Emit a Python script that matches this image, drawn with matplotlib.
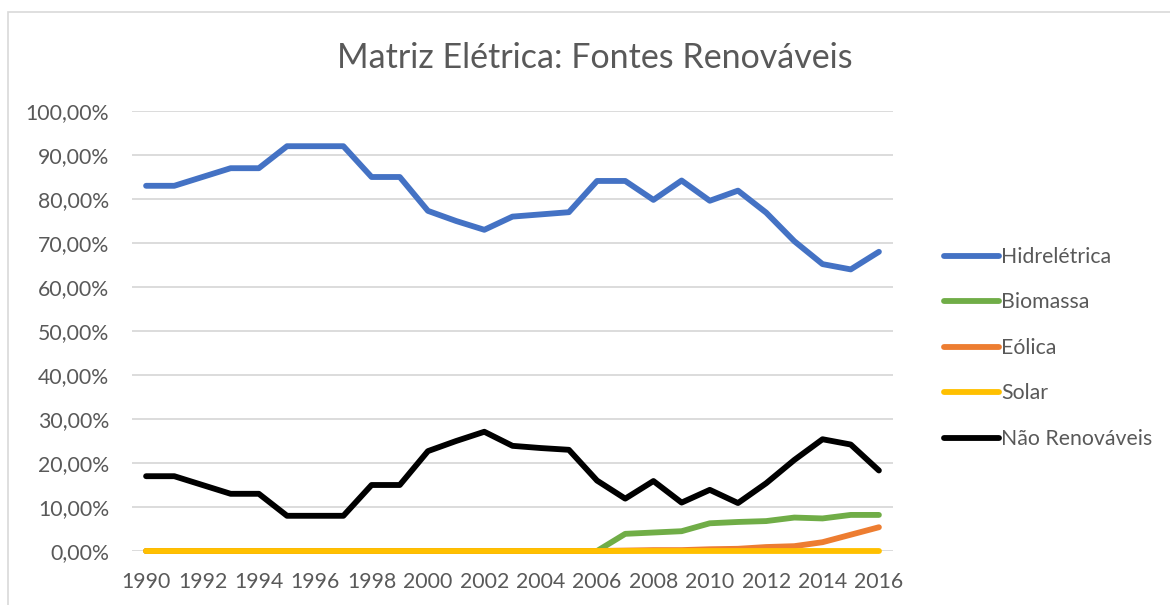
import matplotlib
matplotlib.use("Agg")
import matplotlib.pyplot as plt
from matplotlib.patches import Rectangle
from matplotlib.ticker import FuncFormatter

years = list(range(1990, 2017))
hidreletrica = [83.0, 83.0, 85.0, 87.0, 87.0, 92.0, 92.0, 92.0, 85.0, 85.0, 77.3, 75.0, 73.0,
                76.0, 76.5, 77.0, 84.1, 84.1, 79.8, 84.2, 79.6, 81.9, 76.9, 70.4, 65.2, 64.0, 68.0]
biomassa = [0, 0, 0, 0, 0, 0, 0, 0, 0, 0, 0, 0, 0, 0, 0, 0, 0,
            3.9, 4.2, 4.5, 6.3, 6.6, 6.8, 7.6, 7.4, 8.2, 8.2]
eolica = [0, 0, 0, 0, 0, 0, 0, 0, 0, 0, 0, 0, 0, 0, 0, 0, 0,
          0.1, 0.2, 0.2, 0.4, 0.5, 0.9, 1.1, 2.0, 3.7, 5.4]
solar = [0.0] * 27
nao_renovaveis = [17.0, 17.0, 15.0, 13.0, 13.0, 8.0, 8.0, 8.0, 15.0, 15.0, 22.7, 25.0, 27.1,
                  23.9, 23.4, 23.0, 16.0, 11.9, 15.9, 11.0, 13.9, 10.9, 15.4, 20.7, 25.4, 24.2, 18.3]

series = [
    ("Hidrelétrica", hidreletrica, "#4472C4"),
    ("Biomassa", biomassa, "#70AD47"),
    ("Eólica", eolica, "#ED7D31"),
    ("Solar", solar, "#FFC000"),
    ("Não Renováveis", nao_renovaveis, "#000000"),
]
title = "Matriz Elétrica: Fontes Renováveis"
yticks = list(range(0, 101, 10))
xticks = list(range(1990, 2017, 2))

plt.rcParams['font.family'] = ['Lato', 'DejaVu Sans']
W, H = 1170, 605
fig = plt.figure(figsize=(W / 100, H / 100), dpi=100)
fig.patch.set_facecolor("white")

# chart border
fig.add_artist(Rectangle((8 / W, -0.1), 1.2, (H - 12) / H + 0.1, transform=fig.transFigure,
                         fill=False, edgecolor="#D9D9D9", linewidth=1.2))

ax = fig.add_axes([132 / W, (H - 551) / H, 761 / W, 440 / H])
ax.set_xlim(1989.5, 2016.5)
ax.set_ylim(0, 100)
for s in ax.spines.values():
    s.set_visible(False)
ax.set_yticks(yticks)
ax.yaxis.set_major_formatter(FuncFormatter(lambda v, p: f"{v:.2f}".replace(".", ",") + "%"))
ax.set_xticks(xticks)
ax.tick_params(axis="both", length=0, labelsize=15.3, labelcolor="#595959")
ax.tick_params(axis="y", pad=16.5)
ax.tick_params(axis="x", pad=15)
ax.grid(axis="y", color="#D9D9D9", linewidth=1.3)
ax.set_axisbelow(True)

for name, vals, color in series:
    ax.plot(years, vals, color=color, linewidth=4.2, label=name, solid_capstyle="round",
            solid_joinstyle="round", clip_on=False, zorder=3)

fig.text(595 / W, 1 - 58 / H, title, ha="center", va="center", fontsize=24.5, color="#595959")

leg = ax.legend(loc="center left", bbox_to_anchor=(935 / W, 1 - 348 / H), bbox_transform=fig.transFigure,
                frameon=False, fontsize=15.3, labelcolor="#595959", handlelength=2.6,
                handletextpad=0.1, labelspacing=1.2, borderaxespad=0)

fig.savefig("out.png", dpi=100, facecolor="white")
